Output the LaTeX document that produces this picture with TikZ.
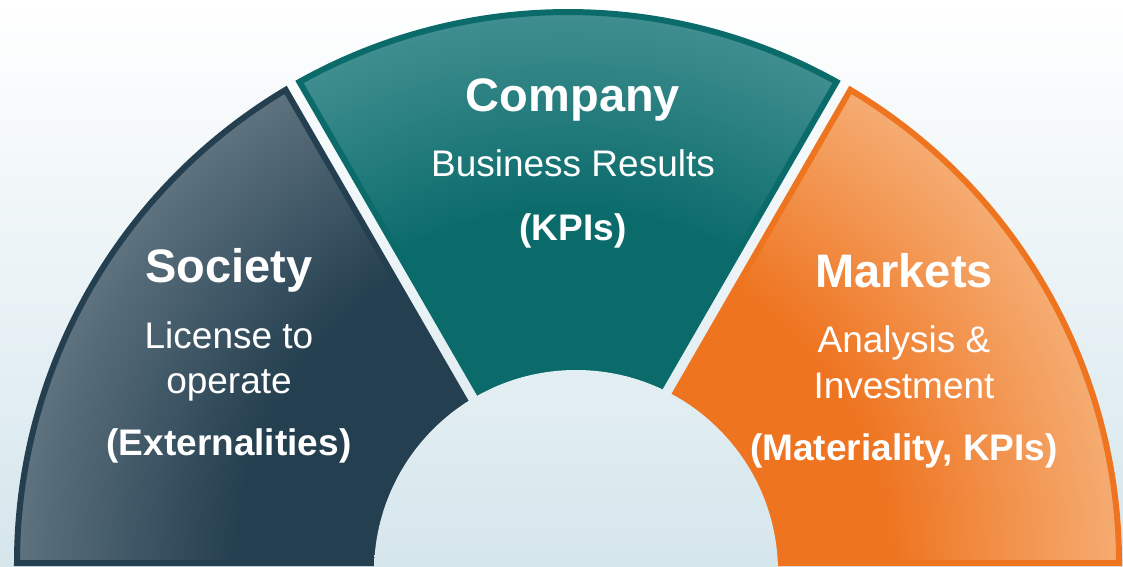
\documentclass[tikz,border=0pt]{standalone}
\usepackage{fontspec}
\setmainfont{Liberation Sans}
\usetikzlibrary{calc}

% palette
\definecolor{bgtop}{HTML}{FFFFFF}
\definecolor{bgmid}{HTML}{F1F7F9}
\definecolor{bgbot}{HTML}{D5E6EC}
\definecolor{socdark}{HTML}{243F4F}
\definecolor{soclight}{HTML}{5E727F}
\definecolor{comdark}{HTML}{0B6B6B}
\definecolor{comlight}{HTML}{408E8F}
\definecolor{mktdark}{HTML}{EE7420}
\definecolor{mktlight}{HTML}{F5AC72}

% radial fills: dark towards the hub, lighter towards the rim
% (TikZ maps the shaded path's box onto the central 50bp of the shading)
\pgfdeclareradialshading{socshade}{\pgfpoint{0bp}{0bp}}{color(0bp)=(socdark); color(15bp)=(socdark); color(25bp)=(soclight); color(50bp)=(soclight)}
\pgfdeclareradialshading{comshade}{\pgfpoint{0bp}{0bp}}{color(0bp)=(comdark); color(16bp)=(comdark); color(25bp)=(comlight); color(50bp)=(comlight)}
\pgfdeclareradialshading{mktshade}{\pgfpoint{0bp}{0bp}}{color(0bp)=(mktdark); color(14.5bp)=(mktdark); color(25bp)=(mktlight); color(50bp)=(mktlight)}

\tikzset{
  bgshade/.style={top color=bgtop, middle color=bgmid, bottom color=bgbot},
  rim/.style={line width=6pt, line join=miter},
  head/.style={inner sep=0pt, anchor=base, text=white, font=\fontsize{47}{56}\selectfont\bfseries},
  sub/.style={inner sep=0pt, anchor=base, text=white, font=\fontsize{37}{44}\selectfont},
  tag/.style={inner sep=0pt, anchor=base, text=white, font=\fontsize{37}{44}\selectfont\bfseries},
}

\def\R{551}

\begin{document}
\begin{tikzpicture}[x=1pt,y=1pt]
  \useasboundingbox (0,0) rectangle (1123,566);
  \shade[bgshade] (0,0) rectangle (1123,566);

  \coordinate (c) at (568,3);     % hub of the half ring
  \coordinate (ic) at (576,-6);   % centre of the inner disc

  % segment outlines (radial edges pulled apart to leave gaps)
  \def\socpath{($(c)+(180:9.24)$) -- ($(c)+(120.83:\R)$) arc[start angle=120.83, end angle=180, radius=\R] -- cycle}
  \def\compath{($(c)+(90:16)$) -- ($(c)+(60.83:\R)$) arc[start angle=60.83, end angle=119.17, radius=\R] -- cycle}
  \def\mktpath{($(c)+(0:9.24)$) -- ($(c)+(59.17:\R)$) arc[start angle=59.17, end angle=0, radius=\R] -- cycle}

  % Society
  \begin{scope}
    \clip \socpath;
    \shade[shading=socshade] (c) circle (\R);
  \end{scope}
  \draw[rim, draw=socdark] \socpath;

  % Company
  \begin{scope}
    \clip \compath;
    \shade[shading=comshade] (c) circle (\R);
  \end{scope}
  \draw[rim, draw=comdark] \compath;

  % Markets
  \begin{scope}
    \clip \mktpath;
    \shade[shading=mktshade] (c) circle (\R);
  \end{scope}
  \draw[rim, draw=mktdark] \mktpath;

  % inner disc showing the backdrop
  \begin{scope}
    \clip (ic) circle (202);
    \shade[bgshade] (0,0) rectangle (1123,566);
  \end{scope}

  % labels
  \node[head] (comhead) at (573,454) {Company};
  \node[sub]  (comsub)  at (573,389) {Business Results};
  \node[tag]  (comtag)  at (573,326) {(KPIs)};

  \node[head] (sochead) at (229,284) {Society};
  \node[sub]  (socsubA) at (229,218) {License to};
  \node[sub]  (socsubB) at (229,173) {operate};
  \node[tag]  (soctag)  at (229,111) {(Externalities)};

  \node[head] (mkthead) at (904,279) {Markets};
  \node[sub]  (mktsubA) at (904,214) {Analysis \&};
  \node[sub]  (mktsubB) at (904,168) {Investment};
  \node[tag]  (mkttag)  at (904,106) {(Materiality, KPIs)};
\end{tikzpicture}
\end{document}
